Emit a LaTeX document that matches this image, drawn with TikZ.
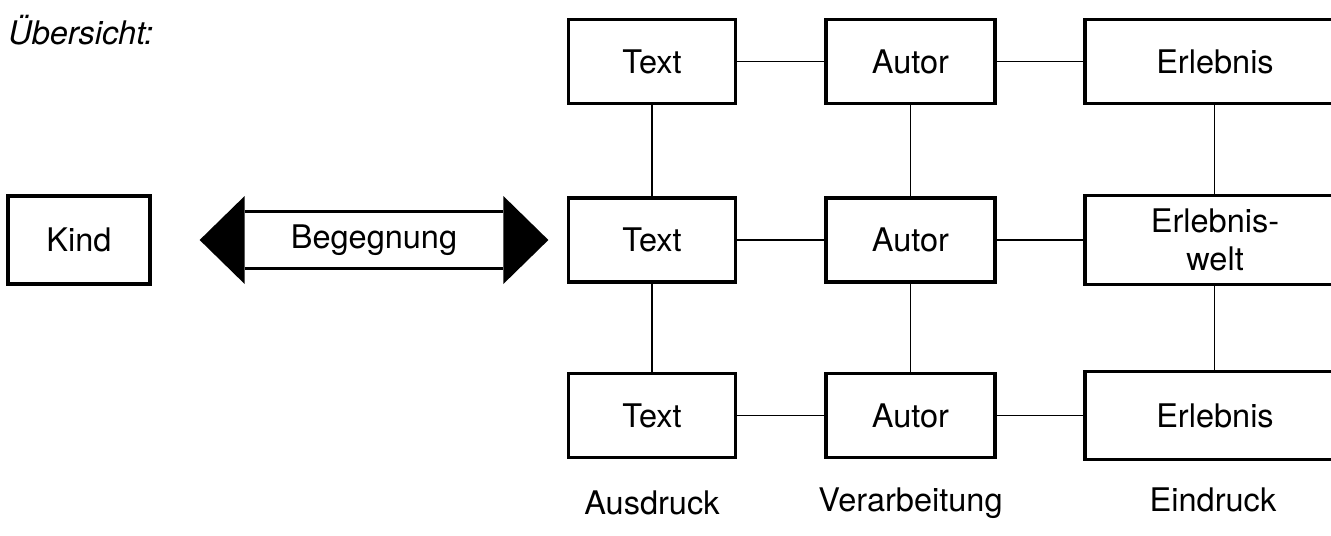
\documentclass[tikz,border=0pt]{standalone}
\usepackage{fontspec}
\setmainfont{TeX Gyre Heros}
\usepackage{tikz}
\usetikzlibrary{positioning, calc}

\newcommand{\padr}{\hspace*{0.4cm}}

\tikzset{
    box/.style={draw, line width=1.8pt, minimum width=3.34cm, minimum height=1.68cm, align=center},
    wide/.style={box, minimum width=5.6cm},
    link/.style={line width=0.6pt},
    caption/.style={inner sep=0pt}
}

\begin{document}
\begin{tikzpicture}[font=\fontsize{18.5}{22}\selectfont]
    \useasboundingbox (0,0) rectangle (26.62,10.7);

    % Define nodes
    \node[caption, anchor=west] (title) at (0.16,10.1) {\itshape Übersicht:};
    \node[box, minimum width=2.84cm, minimum height=1.76cm] (Kind) at (1.58,5.9) {Kind};
    \node[minimum width=5.16cm, minimum height=1.12cm] (Beg) at (7.48,5.9) {Begegnung};

    \node[box] (T1) at (13.04,9.47) {Text};
    \node[box] (T2) at (13.04,5.9) {Text};
    \node[box] (T3) at (13.04,2.39) {Text};
    \node[box, minimum width=3.38cm] (A1) at (18.21,9.47) {Autor};
    \node[box, minimum width=3.38cm] (A2) at (18.21,5.9) {Autor};
    \node[box, minimum width=3.38cm] (A3) at (18.21,2.39) {Autor};
    \node[wide] (E1) at (24.5,9.47) {Erlebnis\padr};
    \node[wide, minimum height=1.78cm] (E2) at (24.5,5.9) {Erlebnis-\padr\\welt\padr};
    \node[wide, minimum height=1.76cm] (E3) at (24.5,2.39) {Erlebnis\padr};

    \node[caption] (Aus) at (13.04,0.64) {Ausdruck};
    \node[caption] (Ver) at (18.21,0.64) {Verarbeitung};
    \node[caption] (Ein) at (24.26,0.7) {Eindruck};

    % Draw the double arrow
    \draw[line width=1.8pt] (Beg.north west) -- (Beg.north east);
    \draw[line width=1.8pt] (Beg.south west) -- (Beg.south east);
    \fill ($(Beg.west)+(0,0.88)$) -- ($(Beg.west)+(-0.9,0)$) -- ($(Beg.west)+(0,-0.88)$) -- cycle;
    \fill ($(Beg.east)+(0,0.88)$) -- ($(Beg.east)+(0.9,0)$) -- ($(Beg.east)+(0,-0.88)$) -- cycle;

    % Draw links
    \draw[link] (T1) -- (A1);
    \draw[link] (A1) -- (E1);
    \draw[link] (T2) -- (A2);
    \draw[link] (A2) -- (E2);
    \draw[link] (T3) -- (A3);
    \draw[link] (A3) -- (E3);
    \draw[link] (T1) -- (T2);
    \draw[link] (T2) -- (T3);
    \draw[link] (A1) -- (A2);
    \draw[link] (A2) -- (A3);
    \draw[link] ($(E1.south west)!0.464!(E1.south east)$) -- ($(E2.north west)!0.464!(E2.north east)$);
    \draw[link] ($(E2.south west)!0.464!(E2.south east)$) -- ($(E3.north west)!0.464!(E3.north east)$);
\end{tikzpicture}
\end{document}
